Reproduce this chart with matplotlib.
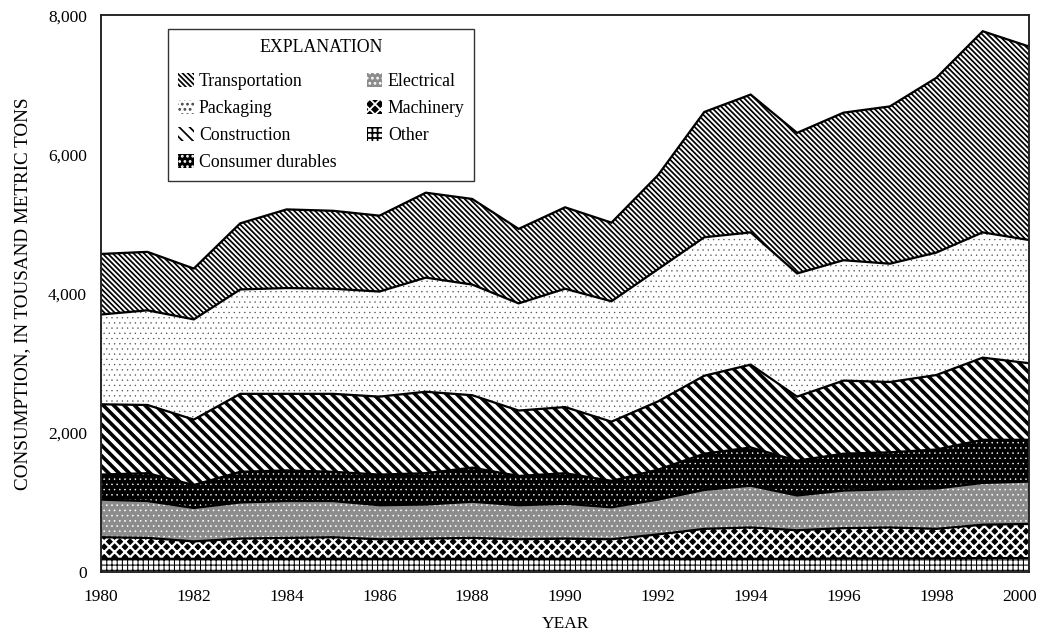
import matplotlib
matplotlib.use("Agg")
import matplotlib.pyplot as plt
from matplotlib.patches import Patch
from matplotlib.ticker import FuncFormatter
from matplotlib.transforms import ScaledTranslation
import numpy as np

# consumption by end use, thousand metric tons
years = list(range(1980, 2001))
other = [190, 190, 190, 190, 190, 190, 190, 190, 190, 190, 190,
         190, 190, 190, 190, 190, 195, 195, 195, 200, 200]
machinery = [310, 300, 250, 290, 300, 310, 280, 290, 300, 280, 290,
             280, 350, 430, 450, 410, 435, 445, 425, 480, 490]
electrical = [540, 530, 480, 520, 530, 520, 490, 490, 520, 490, 500,
              460, 500, 560, 600, 500, 540, 550, 580, 600, 610]
consumer = [360, 400, 330, 440, 440, 420, 440, 450, 490, 420, 440,
            380, 430, 520, 550, 500, 530, 530, 560, 620, 600]
construction = [1010, 980, 940, 1120, 1100, 1120, 1120, 1170, 1040, 940, 950,
                850, 980, 1120, 1190, 920, 1050, 1010, 1070, 1180, 1100]
packaging = [1290, 1360, 1440, 1500, 1520, 1510, 1510, 1640, 1590, 1540, 1700,
             1730, 1900, 1990, 1900, 1770, 1730, 1700, 1760, 1800, 1770]
transport = [870, 840, 730, 950, 1130, 1120, 1090, 1220, 1230, 1070, 1170,
             1130, 1350, 1800, 1980, 2020, 2120, 2260, 2510, 2890, 2780]

DPI = 125
plt.rcParams['font.family'] = 'serif'
plt.rcParams['font.serif'] = ['Liberation Serif', 'DejaVu Serif']

fig = plt.figure(figsize=(1037 / DPI, 632 / DPI), dpi=DPI)
ax = fig.add_axes([0.0974, 0.0949, 0.895, 0.881])

# name, values, face, hatch colour, hatch, hatch width   (bottom -> top)
layers = [
    ("Other", other, "white", "black", "++++", 0.6),
    ("Machinery", machinery, "black", "white", "xxxx", 1.3),
    ("Electrical", electrical, "#8c8c8c", "white", "....", 0.4),
    ("Consumer durables", consumer, "black", "white", "....", 0.3),
    ("Construction", construction, "white", "black", "\\" * 4, 2.1),
    ("Packaging", packaging, "white", "#444444", "....", 0.2),
    ("Transportation", transport, "white", "black", "\\" * 8, 1.0),
]

base = np.zeros(len(years))
handles = []
for name, vals, face, hcol, hatch, hlw in layers:
    top = base + np.array(vals)
    with plt.rc_context({'hatch.linewidth': hlw, 'hatch.color': hcol}):
        pc = ax.fill_between(years, base, top, facecolor=face, edgecolor=hcol,
                             hatch=hatch, linewidth=0)
        h = Patch(facecolor=face, edgecolor=hcol, hatch=hatch, linewidth=0, label=name)
        if hasattr(pc, 'set_hatch_linewidth'):
            pc.set_hatch_linewidth(hlw)
            h.set_hatch_linewidth(hlw)
    handles.append(h)
    ax.plot(years, top, color='black', lw=1.3, solid_joinstyle='miter')
    base = top

ax.set_xlim(1980, 2000)
ax.set_ylim(0, 8000)
ax.set_xticks(range(1980, 2001, 2))
ax.set_yticks(range(0, 8001, 2000))
ax.yaxis.set_major_formatter(FuncFormatter(lambda v, p: f"{int(v):,}"))
ax.tick_params(length=0, labelsize=10, colors='black')
ax.tick_params(axis='x', pad=10)
ax.tick_params(axis='y', pad=8)
for s in ax.spines.values():
    s.set_linewidth(1.1)
    s.set_color('#222222')
    s.set_zorder(5)

# last year label would run off the edge, nudge it in a bit
last = ax.get_xticklabels()[-1]
last.set_transform(last.get_transform() + ScaledTranslation(-10 / DPI, 0, fig.dpi_scale_trans))

ax.set_xlabel("YEAR", fontsize=10, labelpad=6)
ax.set_ylabel("CONSUMPTION, IN TOUSAND METRIC TONS", fontsize=11, labelpad=10)

leg = ax.legend(handles=handles[::-1], ncol=2, title="EXPLANATION",
                loc='upper left', bbox_to_anchor=(0.072, 0.975), borderaxespad=0,
                fontsize=10.2, title_fontsize=10.2, fancybox=False, framealpha=1,
                edgecolor='#333333', handlelength=0.9, handleheight=0.9,
                handletextpad=0.3, columnspacing=1.7, labelspacing=0.54,
                borderpad=0.55)
leg._legend_box.sep = 9.7  # more room under the title
leg.get_frame().set_linewidth(0.8)
leg.set_zorder(10)

fig.savefig("out.png", dpi=DPI)
